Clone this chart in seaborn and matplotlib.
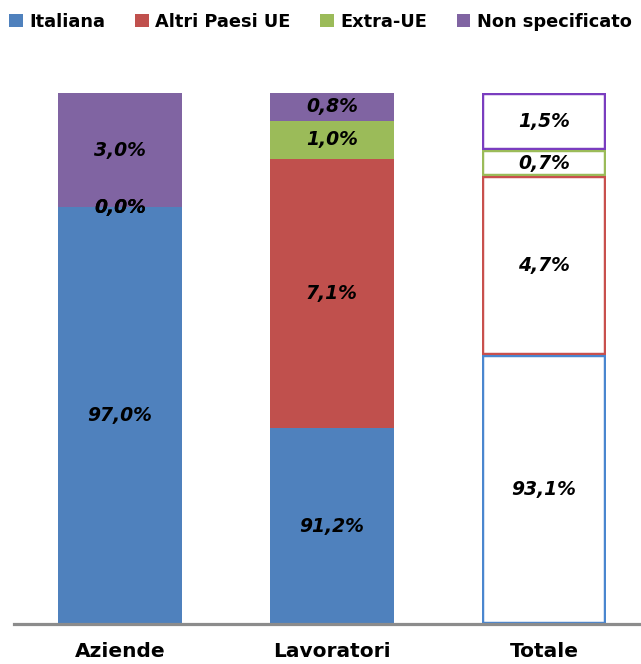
import matplotlib
matplotlib.use("Agg")
import matplotlib.pyplot as plt
import numpy as np
import seaborn as sns
from matplotlib.patches import Patch

# categorie e serie (dal basso verso l'alto)
categorie = ["Aziende", "Lavoratori", "Totale"]
serie = ["Italiana", "Altri Paesi UE", "Extra-UE", "Non specificato"]
colori = ["#4F81BD", "#C0504D", "#9BBB59", "#8064A2"]
colori_bordo = ["#4A86CF", "#C8504D", "#9BBB59", "#7A3DBF"]

# etichette percentuali mostrate nel grafico
etichette = {
    "Italiana": ["97,0%", "91,2%", "93,1%"],
    "Altri Paesi UE": ["0,0%", "7,1%", "4,7%"],
    "Extra-UE": ["0,0%", "1,0%", "0,7%"],
    "Non specificato": ["3,0%", "0,8%", "1,5%"],
}

# altezze dei segmenti come appaiono nel disegno (quota della colonna)
altezze = {
    "Italiana": [78.5, 36.9, 50.7],
    "Altri Paesi UE": [0.0, 50.7, 33.6],
    "Extra-UE": [0.0, 7.2, 5.0],
    "Non specificato": [21.5, 5.2, 10.7],
}

sns.set_theme(style="white")
plt.rcParams["font.family"] = ["DejaVu Sans"]

fig = plt.figure(figsize=(6.41, 6.64), dpi=100)
ax = fig.add_axes([14 / 641, 40 / 664, 627 / 641, 531 / 664])

base = np.zeros(len(categorie))
for s, c, cb in zip(serie, colori, colori_bordo):
    h = np.array(altezze[s])
    n_prima = len(ax.patches)
    sns.barplot(x=categorie, y=h, bottom=base, color=c, width=0.585,
                saturation=1, linewidth=0, ax=ax)
    barre = ax.patches[n_prima:]
    # Totale: solo contorno colorato
    p = barre[2]
    p.set_facecolor("white")
    p.set_edgecolor(cb)
    p.set_linewidth(3.2)
    p.set_clip_path(p)
    for i, lab in enumerate(etichette[s]):
        ax.text(i, base[i] + h[i] / 2, lab, ha="center", va="center",
                fontsize=13.5, fontweight="bold", style="italic", color="black")
    base = base + h

ax.set_xlim(-0.5, 2.458)
ax.set_ylim(0, 100)
ax.set_yticks([])
ax.set_ylabel("")
sns.despine(ax=ax, left=True)
ax.spines["bottom"].set_color("#8c8c8c")
ax.spines["bottom"].set_linewidth(2.3)
ax.spines["bottom"].set_zorder(5)
ax.tick_params(axis="x", length=0, pad=13)
for t in ax.get_xticklabels():
    t.set_fontsize(14.5)
    t.set_fontweight("bold")
    t.set_color("black")

maniglie = [Patch(facecolor=c, edgecolor="none") for c in colori]
leg = fig.legend(maniglie, serie, loc="center", bbox_to_anchor=(0.5, 1 - 22 / 664),
                 ncol=4, frameon=False, handlelength=0.75, handleheight=0.75,
                 handletextpad=0.35, columnspacing=1.7,
                 prop={"weight": "bold", "size": 12.8})
for t in leg.get_texts():
    t.set_color("black")

fig.savefig("out.png", dpi=100)
